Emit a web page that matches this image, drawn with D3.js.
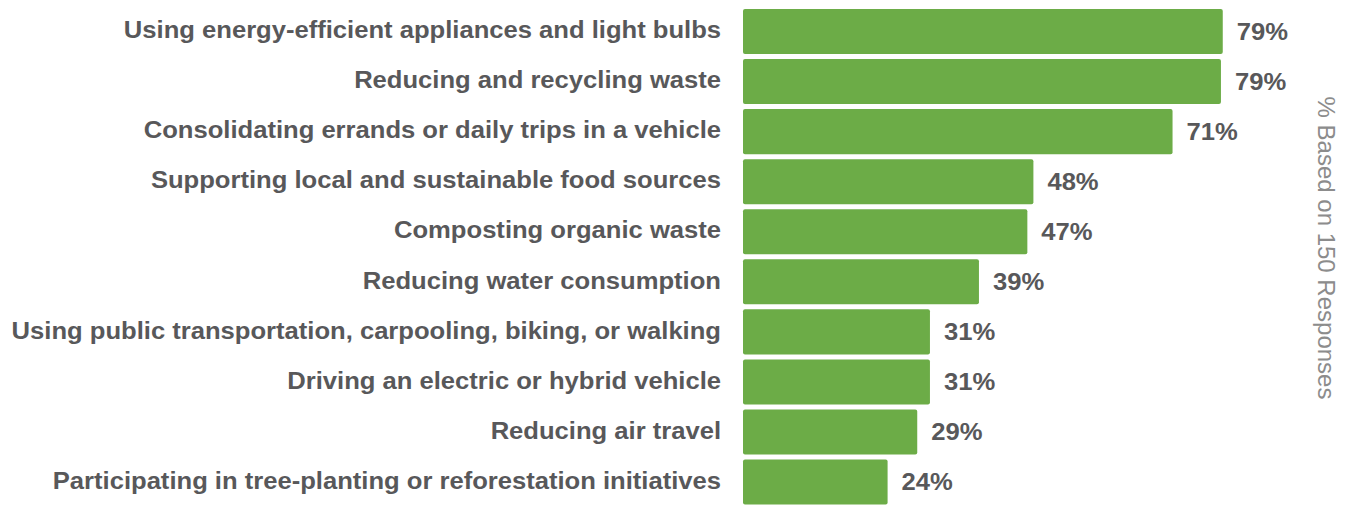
<!DOCTYPE html>
<html>
<head>
<meta charset="utf-8">
<script src="https://cdn.jsdelivr.net/npm/d3@7"></script>
<style>
  html, body { margin: 0; padding: 0; background: #fff; }
  svg { display: block; }
</style>
</head>
<body>
<svg id="chart" width="1353" height="510"></svg>
<script>
const categories = [
  "Using energy-efficient appliances and light bulbs",
  "Reducing and recycling waste",
  "Consolidating errands or daily trips in a vehicle",
  "Supporting local and sustainable food sources",
  "Composting organic waste",
  "Reducing water consumption",
  "Using public transportation, carpooling, biking, or walking",
  "Driving an electric or hybrid vehicle",
  "Reducing air travel",
  "Participating in tree-planting or reforestation initiatives"
];
const values = [79.3, 79.0, 71.0, 48.0, 47.0, 39.0, 30.9, 30.9, 28.8, 23.9];
const valueLabels = ["79%", "79%", "71%", "48%", "47%", "39%", "31%", "31%", "29%", "24%"];
const axisTitle = "% Based on 150 Responses";

const svg = d3.select("#chart");
const x = d3.scaleLinear().domain([0, 100]).range([743, 1348]);
const y = d3.scaleBand().domain(categories).range([4, 509.6]).paddingInner(0.1).paddingOuter(0.1);

const data = categories.map((c, i) => ({ c, v: values[i], l: valueLabels[i] }));

svg.selectAll("rect.bar").data(data).join("rect")
  .attr("class", "bar")
  .attr("x", x(0))
  .attr("y", d => y(d.c))
  .attr("width", d => x(d.v) - x(0))
  .attr("height", y.bandwidth())
  .attr("rx", 2)
  .attr("fill", "#6cac47");

const textFont = "'Liberation Sans', Arial, Helvetica, sans-serif";
const sx = 1.067;

svg.selectAll("text.cat").data(data).join("text")
  .attr("class", "cat")
  .attr("transform", d => `translate(721,${y(d.c) + y.bandwidth() / 2}) scale(${sx},1)`)
  .attr("dy", "0.28em")
  .attr("text-anchor", "end")
  .style("font-family", textFont)
  .style("font-weight", "bold")
  .style("font-size", "24px")
  .style("fill", "#58585a")
  .text(d => d.c);

svg.selectAll("text.val").data(data).join("text")
  .attr("class", "val")
  .attr("transform", d => `translate(${x(d.v) + 14},${y(d.c) + y.bandwidth() / 2}) scale(${sx},1)`)
  .attr("dy", "0.34em")
  .style("font-family", textFont)
  .style("font-weight", "bold")
  .style("font-size", "24px")
  .style("fill", "#58585a")
  .text(d => d.l);

svg.append("text")
  .attr("transform", "translate(1326.5,248) rotate(90)")
  .attr("text-anchor", "middle")
  .attr("dy", "0.35em")
  .style("font-family", textFont)
  .style("font-size", "24px")
  .style("fill", "#8c8c8c")
  .text(axisTitle);
</script>
</body>
</html>
